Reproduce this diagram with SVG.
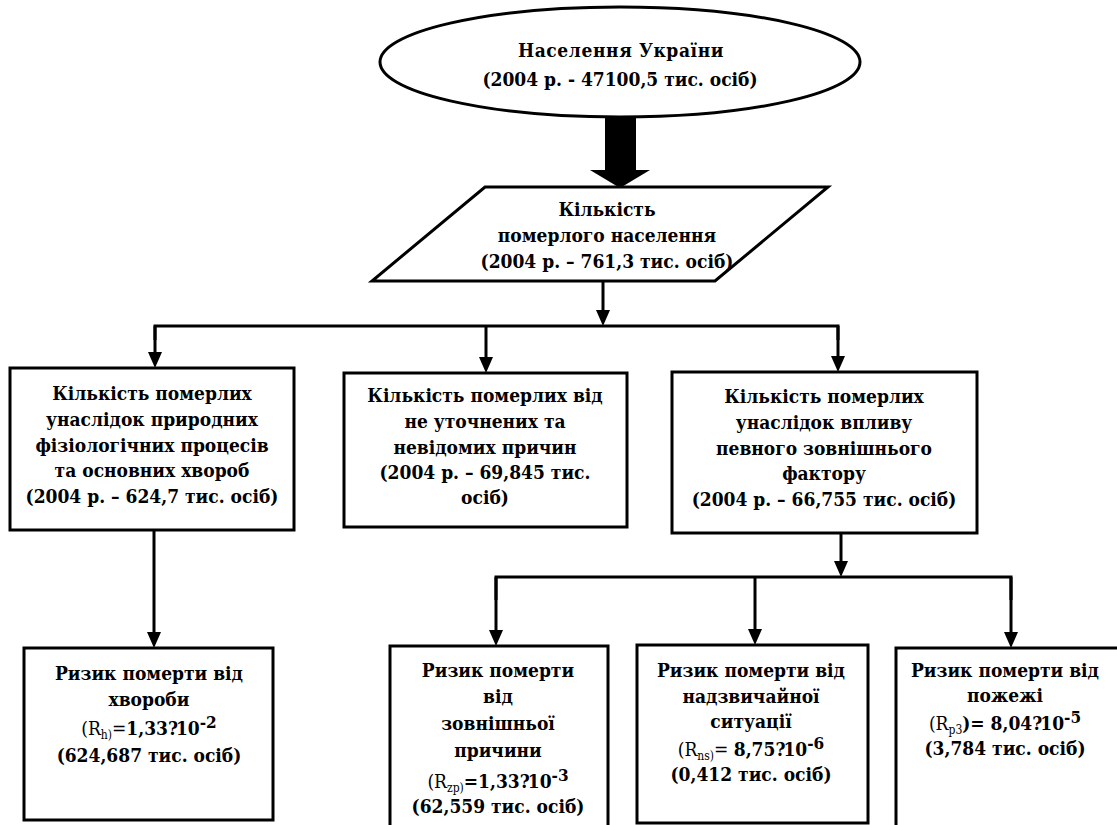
<svg xmlns="http://www.w3.org/2000/svg" width="1117" height="825" viewBox="0 0 1117 825">
<defs>
<style>
.shape{fill:#fff;stroke:#000;stroke-width:3}
.t{font-family:"DejaVu Serif Condensed","DejaVu Serif",serif;font-stretch:condensed;font-weight:bold;font-size:19px;fill:#000;text-anchor:middle}
.n{font-weight:normal}
.sub{font-weight:normal;font-size:12px}
.sup{font-size:17px}
.ln{fill:none;stroke:#000;stroke-width:3}
</style>
<marker id="ah" markerUnits="userSpaceOnUse" markerWidth="18" markerHeight="16" refX="8" refY="7" orient="auto">
<path d="M0,0 L16,7 L0,14 z" fill="#000"/>
</marker>
</defs>
<rect width="1117" height="825" fill="#fff"/>

<g id="connectors">
<polygon points="605,117 636,117 636,170 650,170 620,188 590,170 605,170" fill="#000"/>
<line class="ln" x1="603" y1="281" x2="603" y2="318" marker-end="url(#ah)"/>
<polyline class="ln" points="155,340 155,326 838,326 838,340"/>
<line class="ln" x1="155" y1="326" x2="155" y2="360" marker-end="url(#ah)"/>
<line class="ln" x1="486" y1="326" x2="486" y2="365" marker-end="url(#ah)"/>
<line class="ln" x1="838" y1="326" x2="838" y2="364" marker-end="url(#ah)"/>
<line class="ln" x1="154" y1="530" x2="154" y2="640" marker-end="url(#ah)"/>
<line class="ln" x1="841" y1="533" x2="841" y2="569" marker-end="url(#ah)"/>
<polyline class="ln" points="496,600 496,577 1011,577 1011,600"/>
<line class="ln" x1="496" y1="577" x2="496" y2="638" marker-end="url(#ah)"/>
<line class="ln" x1="755" y1="577" x2="755" y2="637" marker-end="url(#ah)"/>
<line class="ln" x1="1011" y1="577" x2="1011" y2="640" marker-end="url(#ah)"/>
</g>

<g id="population">
<ellipse class="shape" cx="620" cy="62" rx="240" ry="55"/>
<text class="t" x="621" y="57" letter-spacing="0.6">Населення України</text>
<text class="t" x="620" y="86">(2004 р. - 47100,5 тис. осіб)</text>
</g>

<g id="deceased">
<polygon class="shape" points="485,187 828,187 715,281 372,281"/>
<text class="t" x="607" y="216">Кількість</text>
<text class="t" x="607" y="242">померлого населення</text>
<text class="t" x="607" y="268">(2004 р. – 761,3 тис. осіб)</text>
</g>

<g id="natural">
<rect class="shape" x="10" y="368" width="284" height="162"/>
<text class="t" x="152" y="400">Кількість померлих</text>
<text class="t" x="152" y="426">унаслідок природних</text>
<text class="t" x="152" y="452">фізіологічних процесів</text>
<text class="t" x="152" y="477">та основних хвороб</text>
<text class="t" x="152" y="503">(2004 р. – 624,7 тис. осіб)</text>
</g>

<g id="unknown">
<rect class="shape" x="344" y="373" width="283" height="154"/>
<text class="t" x="485" y="402">Кількість померлих від</text>
<text class="t" x="485" y="428">не уточнених та</text>
<text class="t" x="485" y="454">невідомих причин</text>
<text class="t" x="485" y="479">(2004 р. – 69,845 тис.</text>
<text class="t" x="485" y="504">осіб)</text>
</g>

<g id="external">
<rect class="shape" x="672" y="372" width="305" height="161"/>
<text class="t" x="824" y="403">Кількість померлих</text>
<text class="t" x="824" y="429">унаслідок впливу</text>
<text class="t" x="824" y="455">певного зовнішнього</text>
<text class="t" x="824" y="480">фактору</text>
<text class="t" x="824" y="506">(2004 р. – 66,755 тис. осіб)</text>
</g>

<g id="risk-disease">
<rect class="shape" x="24" y="648" width="249" height="172"/>
<text class="t" x="149" y="680">Ризик померти від</text>
<text class="t" x="149" y="706">хвороби</text>
<text class="t" x="149" y="735"><tspan class="n">(R</tspan><tspan class="sub" dy="4">h)</tspan><tspan class="n" dy="-4">=</tspan>1,33?<tspan dx="-2">10</tspan><tspan class="sup" dy="-7">-2</tspan></text>
<text class="t" x="149" y="762">(624,687 тис. осіб)</text>
</g>

<g id="risk-external">
<rect class="shape" x="390" y="646" width="218" height="185"/>
<text class="t" x="498" y="677">Ризик померти</text>
<text class="t" x="498" y="703">від</text>
<text class="t" x="498" y="730">зовнішньої</text>
<text class="t" x="498" y="757">причини</text>
<text class="t" x="498" y="788"><tspan class="n">(R</tspan><tspan class="sub" dy="4">zp)</tspan><tspan dy="-4">=1,33?</tspan><tspan dx="-2">10</tspan><tspan class="sup" dy="-7">-3</tspan></text>
<text class="t" x="498" y="813">(62,559 тис. осіб)</text>
</g>

<g id="risk-emergency">
<rect class="shape" x="637" y="645" width="231" height="178"/>
<text class="t" x="751" y="677">Ризик померти від</text>
<text class="t" x="751" y="703">надзвичайної</text>
<text class="t" x="751" y="728">ситуації</text>
<text class="t" x="751" y="756"><tspan class="n">(R</tspan><tspan class="sub" dy="4">ns)</tspan><tspan class="n" dy="-4">= </tspan>8,75?<tspan dx="-2">10</tspan><tspan class="sup" dy="-7">-6</tspan></text>
<text class="t" x="751" y="781">(0,412 тис. осіб)</text>
</g>

<g id="risk-fire">
<rect class="shape" x="896" y="648" width="224" height="185"/>
<text class="t" x="1005" y="677">Ризик померти від</text>
<text class="t" x="1005" y="702">пожежі</text>
<text class="t" x="1005" y="730"><tspan class="n">(R</tspan><tspan class="sub" dy="4">p3</tspan><tspan dy="-4">)= 8,04?</tspan><tspan dx="-2">10</tspan><tspan class="sup" dy="-7">-5</tspan></text>
<text class="t" x="1005" y="755">(3,784 тис. осіб)</text>
</g>
</svg>
